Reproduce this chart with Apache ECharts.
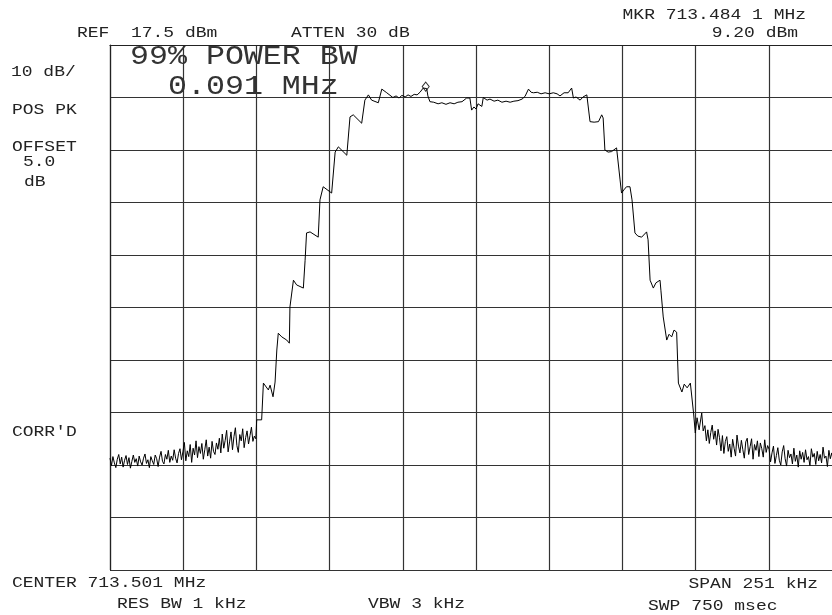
<!DOCTYPE html>
<html>
<head>
<meta charset="utf-8">
<script src="https://cdn.jsdelivr.net/npm/echarts@6/dist/echarts.min.js"></script>
<style>
  html, body { margin: 0; padding: 0; background: #fff; }
  #chart { width: 832px; height: 615px; }
</style>
</head>
<body>
<div id="chart"></div>
<script>
// analyzer settings
var refLevel = 17.5;      // dBm, top of screen
var dbPerDiv = 10;
var spanKHz = 251;        // centred on 713.501 MHz
var markerFreq = -16.9;   // kHz from centre (713.4841 MHz)
var markerLevel = 9.2;    // dBm

// noise floor left of the carrier, one point every 0.5 kHz from -125.5 kHz
var noiseLeftStart = -125.5;
var noiseStep = 0.5;
var noiseLeft = [
  -61.2,-62.6,-60.9,-62.1,-63.0,-61.4,-60.5,-62.3,-61.0,-62.9,-61.6,-60.7,
  -62.4,-61.1,-63.1,-61.8,-60.6,-62.0,-61.3,-62.7,-60.8,-61.9,-62.5,-61.2,
  -60.4,-62.2,-61.5,-63.0,-60.9,-61.7,-62.4,-60.6,-61.3,-62.8,-61.0,-59.9,
  -61.8,-62.3,-60.5,-61.4,-59.7,-62.0,-60.8,-61.6,-59.6,-61.2,-62.1,-60.3,
  -59.4,-61.5,-60.0,-58.2,-61.7,-59.8,-60.9,-58.6,-62.0,-59.3,-60.6,-57.9,
  -61.1,-59.0,-60.3,-58.4,-61.4,-59.6,-57.7,-60.8,-59.1,-61.2,-58.0,-59.9,
  -60.5,-58.3,-59.5,
  -57.4,-60.2,-56.6,-59.3,-57.8,-55.9,-60.0,-58.1,-56.2,-59.6,-57.1,-55.4,
  -58.8,-60.1,-56.7,-57.9,-55.6,-59.2,-57.3,-56.0,-58.5,-56.9,-55.3,-58.0,
  -57.0,-57.5
];

// [kHz from centre, dBm]
var skirtLeft = [
  [-75.4,-57.2],[-75.2,-53.9],[-73.5,-53.9],[-72.9,-46.9],[-72.4,-46.7],
  [-71.2,-48.2],[-70.6,-47.3],[-69.6,-49.5],[-68.9,-46.7],[-68.3,-40.6],
  [-67.8,-37.4],[-66.6,-38.1],[-64.9,-38.7],[-64.0,-39.3],[-63.8,-32.4],
  [-62.6,-27.3],[-61.5,-28.2],[-59.2,-28.8],[-58.6,-23.5],[-58.1,-18.3],
  [-56.9,-18.1],[-54.1,-19.1],[-53.5,-12.0],[-52.4,-9.5],[-49.5,-10.7],
  [-48.3,-2.9],[-47.2,-1.9],[-44.3,-3.5],[-43.2,3.8],[-42.1,4.2],
  [-39.2,2.6],[-38.1,7.0],[-36.9,8.0],[-35.8,7.0],[-33.5,6.5],
  [-32.3,9.1],[-30.6,8.4],[-28.5,7.5]
];

var flatTop = [
  [-27.4,7.8],[-26.4,7.4],[-25.4,7.9],[-24.3,7.6],[-23.3,8.0],[-22.3,7.7],
  [-21.2,8.1],[-20.2,8.0],[-19.2,8.5],[-18.1,9.3],[-17.5,9.5],[-16.9,9.2],
  [-16.5,7.8],[-15.8,6.7],[-14.5,6.6],[-13.0,6.3],[-11.7,6.5],[-10.3,6.2],
  [-8.9,6.5],[-7.5,6.3],[-6.2,6.6],[-4.8,6.7],[-3.2,7.4],[-2.1,7.4],
  [-1.5,5.1],[-0.7,5.7],[0.0,5.3],[0.7,6.3],[2.0,5.8],[2.5,7.5],
  [3.8,7.0],[4.8,7.2],[6.2,6.8],[7.5,7.0],[8.9,6.6],[10.3,6.8],
  [11.7,6.6],[13.0,6.8],[14.4,6.9],[15.8,7.2],[16.8,7.7],[18.0,9.1],
  [18.9,8.5],[19.7,8.4],[21.0,8.5],[22.3,8.2],[23.7,8.4],[25.1,8.2],
  [26.5,8.4],[27.8,8.2],[28.8,7.8],[30.2,8.4],[31.6,8.4],[32.8,9.3],
  [33.4,7.4],[34.3,7.6],[35.7,7.0],[36.7,7.6],[38.0,8.0]
];

var skirtRight = [
  [39.1,2.9],[40.5,2.8],[42.0,2.9],[43.1,4.2],[43.6,3.6],[44.2,-2.5],
  [45.3,-2.9],[46.5,-2.8],[48.2,-2.1],[49.4,-8.2],[49.9,-10.7],[50.7,-10.1],
  [51.6,-9.5],[52.8,-9.5],[53.5,-12.0],[54.5,-18.3],[55.5,-18.9],[56.8,-19.1],
  [58.5,-18.1],[59.0,-19.6],[59.7,-27.3],[60.8,-28.8],[61.7,-27.8],[63.1,-27.3],
  [63.4,-29.2],[64.2,-34.3],[65.4,-38.7],[66.2,-37.6],[67.1,-38.1],[67.9,-36.8],
  [68.8,-37.2],[69.4,-46.9],[70.6,-48.6],[71.4,-47.1],[72.4,-47.8],[73.5,-46.9],
  [74.6,-52.6],[75.2,-56.4],[75.8,-53.5],[76.5,-55.8],[77.4,-52.6],[77.9,-56.0]
];

// noise floor right of the carrier, from 78.5 kHz
var noiseRightStart = 78.5;
var noiseRight = [
  -55.0,-57.9,-55.8,-58.4,-56.3,-54.9,-57.6,-56.0,-58.7,-55.7,
  -57.3,-59.8,-56.9,-60.3,-58.0,-57.1,-59.9,-58.5,-61.0,-57.6,-59.3,-60.8,
  -56.8,-58.9,-60.2,-57.8,-59.6,-61.2,-58.1,-57.4,-60.5,-59.0,-57.5,-61.4,
  -58.6,-59.7,-57.9,-60.9,-58.3,-59.4,-61.0,-57.7,-60.1,-58.8,
  -59.5,-61.9,-60.2,-58.9,-62.2,-60.7,-59.2,-61.6,-62.5,-60.0,-58.8,-61.3,
  -62.7,-59.7,-61.1,-60.4,-62.3,-59.3,-61.8,-60.6,-62.9,-59.8,-61.4,-60.1,
  -62.0,-59.6,-61.5,-60.9,-62.6,-59.4,-61.0,-60.3,-62.4,-59.9,-61.7,-60.5,
  -62.1,-59.1,-61.2,-60.8,-62.8,-59.7,-61.3,-60.2,-61.6
];

// screen coords: x = kHz from left edge of span, y = dB below reference
function pt(f, lvl) { return [f + spanKHz / 2, lvl - refLevel]; }

var trace = [];
noiseLeft.forEach(function (v, i) { trace.push(pt(noiseLeftStart + i * noiseStep, v)); });
skirtLeft.concat(flatTop, skirtRight).forEach(function (p) { trace.push(pt(p[0], p[1])); });
noiseRight.forEach(function (v, i) { trace.push(pt(noiseRightStart + i * noiseStep, v)); });

var chart = echarts.init(document.getElementById('chart'));

var FONT = '"Liberation Mono", "DejaVu Sans Mono", monospace';
function label(txt, x, y, opt) {
  opt = opt || {};
  return {
    type: 'text',
    x: x, y: y,
    scaleX: opt.scaleX || 1.16,
    silent: true,
    style: {
      text: txt,
      font: (opt.size || 15.5) + 'px ' + FONT,
      fill: opt.color || '#222',
      textAlign: opt.align || 'left',
      textVerticalAlign: 'middle'
    }
  };
}

var option = {
  animation: false,
  backgroundColor: '#fff',
  // screen runs past the right edge of the photo, so let the grid overflow
  grid: { left: 110, top: 45, width: 732, height: 525, containLabel: false, outerBoundsMode: 'none' },
  xAxis: {
    type: 'value',
    min: 0,
    max: spanKHz,
    interval: spanKHz / 10,
    axisLabel: { show: false },
    axisTick: { show: false },
    axisLine: { show: true, lineStyle: { color: '#222', width: 1.2 } },
    splitLine: { show: true, lineStyle: { color: '#333', width: 1.2 } }
  },
  yAxis: {
    type: 'value',
    min: -10 * dbPerDiv,
    max: 0,
    interval: dbPerDiv,
    axisLabel: { show: false },
    axisTick: { show: false },
    axisLine: { show: true, lineStyle: { color: '#222', width: 1.2 } },
    splitLine: { show: true, lineStyle: { color: '#333', width: 1.2 } }
  },
  series: [
    {
      type: 'line',
      data: trace,
      showSymbol: false,
      symbol: 'none',
      lineStyle: { color: '#000', width: 1 },
      z: 3
    },
    {
      type: 'scatter',
      data: [pt(markerFreq, markerLevel)],
      symbol: 'diamond',
      symbolSize: [7, 9],
      symbolOffset: [-1, -2],
      itemStyle: { color: 'rgba(0,0,0,0)', borderColor: '#000', borderWidth: 1 },
      z: 4
    }
  ],
  graphic: [
    label('REF  17.5 dBm', 77, 33),
    label('ATTEN 30 dB', 291, 33),
    label('MKR 713.484 1 MHz', 806, 15, { align: 'right' }),
    label('9.20 dBm', 798, 33, { align: 'right' }),
    label('10 dB/', 11, 72),
    label('POS PK', 12, 110),
    label('OFFSET', 12, 147),
    label('5.0', 23, 162),
    label('dB', 24, 182),
    label("CORR'D", 12, 432),
    label('CENTER 713.501 MHz', 12, 583),
    label('RES BW 1 kHz', 117, 604),
    label('VBW 3 kHz', 368, 604),
    label('SPAN 251 kHz', 818, 584, { align: 'right' }),
    label('SWP 750 msec', 648, 606),
    label('99% POWER BW', 130, 57, { size: 27.5, scaleX: 1.15, color: '#333' }),
    label('0.091 MHz', 168, 87, { size: 27.5, scaleX: 1.15, color: '#333' })
  ]
};

chart.setOption(option);
</script>
</body>
</html>
